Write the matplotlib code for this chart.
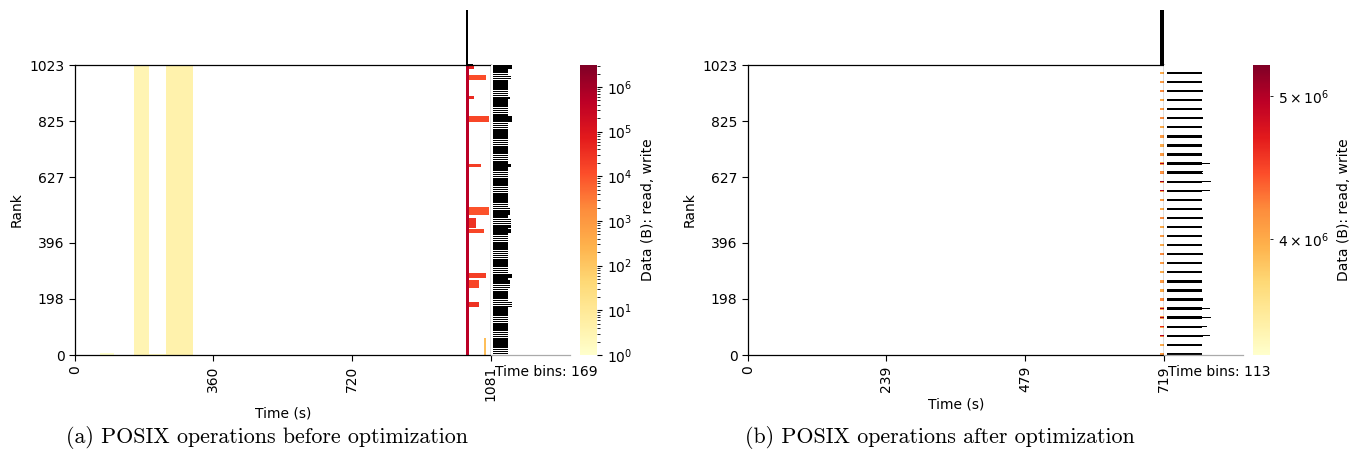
import numpy as np
import matplotlib.pyplot as plt
from matplotlib.colors import LogNorm

# ---- shared ----
N_RANKS = 1024
RANK_TICKS = [0, 198, 396, 627, 825, 1023]
CMAP = plt.get_cmap("YlOrRd").copy()
CMAP.set_bad("white")

# ---- (a) before optimization ----
A_RUNTIME = 1081
A_NBINS = 169
A_XTICKS = [0, 360, 720, 1081]
A_VMIN, A_VMAX = 1.0, 3.1e6

# read phases over all ranks: first bin, last bin, bytes per bin
a_band_first = [24, 37]
a_band_last = [29, 47]
a_band_bytes = [3.0, 4.0]

# short streaks on the lowest ranks
a_streak_top_rank = [6, 4]
a_streak_first = [10, 30]
a_streak_last = [15, 36]
a_streak_bytes = [1.0, 2.0]

# collective write on every rank
a_write_bin = 159
a_write_bytes = 5.0e5

# trailing per-rank write bursts
a_burst_rank_lo = [1010, 970, 905, 822, 665, 494, 448, 430, 272, 236, 169]
a_burst_rank_hi = [1023, 988, 912, 842, 675, 522, 483, 445, 289, 265, 187]
a_burst_last_bin = [161, 166, 161, 167, 164, 167, 162, 165, 166, 163, 163]
a_burst_bytes = [6.0e4, 1.2e4, 4.0e4, 1.5e4, 2.0e4, 1.0e4, 3.0e4, 1.5e4, 2.0e4, 1.5e4, 3.0e4]

# late small write on low ranks
a_tail_bin = 166
a_tail_rank_hi = 60
a_tail_bytes = 150.0

# ---- (b) after optimization ----
B_RUNTIME = 719
B_NBINS = 113
B_XTICKS = [0, 239, 479, 719]
B_VMIN, B_VMAX = 3.34e6, 5.25e6

b_write_bin = 112
b_group_size = 8
b_group_first_rank = [0, 32, 64, 96, 128, 160, 192, 224, 256, 288, 320, 352,
                      384, 416, 448, 480, 512, 544, 576, 608, 640, 672, 704,
                      736, 768, 800, 832, 864, 896, 928, 960, 992]
b_group_bytes = [4.1e6, 4.0e6, 4.2e6, 4.0e6, 4.1e6, 4.0e6, 4.2e6, 4.0e6,
                 4.1e6, 4.0e6, 4.1e6, 4.2e6, 4.0e6, 4.1e6, 4.0e6, 4.2e6,
                 4.0e6, 4.1e6, 4.0e6, 4.1e6, 4.2e6, 4.0e6, 4.1e6, 4.0e6,
                 4.1e6, 4.0e6, 4.2e6, 4.1e6, 4.0e6, 4.2e6, 4.1e6, 4.0e6]
# heaviest rank of each group (leader)
b_leader_bytes = [5.1e6, 4.1e6, 5.0e6, 4.6e6, 5.1e6, 5.0e6, 4.2e6, 5.1e6,
                  5.0e6, 4.6e6, 5.1e6, 5.0e6, 4.1e6, 5.1e6, 4.7e6, 5.0e6,
                  5.1e6, 4.2e6, 5.0e6, 5.1e6, 4.1e6, 5.0e6, 5.1e6, 4.6e6,
                  5.1e6, 5.0e6, 4.1e6, 5.1e6, 5.0e6, 5.1e6, 4.2e6, 5.1e6]


def build_a():
    m = np.zeros((N_RANKS, A_NBINS))
    for b0, b1, v in zip(a_band_first, a_band_last, a_band_bytes):
        m[:, b0:b1 + 1] = v
    for rh, b0, b1, v in zip(a_streak_top_rank, a_streak_first, a_streak_last, a_streak_bytes):
        m[:rh + 1, b0:b1 + 1] = v
    m[:, a_write_bin] = a_write_bytes
    for lo, hi, last, v in zip(a_burst_rank_lo, a_burst_rank_hi, a_burst_last_bin, a_burst_bytes):
        m[lo:hi + 1, a_write_bin + 1:last + 1] = v
    m[:a_tail_rank_hi + 1, a_tail_bin] = a_tail_bytes
    return m


def build_b():
    m = np.zeros((N_RANKS, B_NBINS))
    for r0, v, lead in zip(b_group_first_rank, b_group_bytes, b_leader_bytes):
        m[r0:r0 + b_group_size, b_write_bin] = v
        m[r0 + b_group_size // 2, b_write_bin] = lead
    return m


def heatmap_panel(fig, left, data, runtime, xticks, vmin, vmax, marg_scale, marg_gap,
                  bar_frac, caption, cap_x):
    bottom, height = 0.2316, 0.6277
    width = 0.3072
    mwidth = 0.0584
    ax = fig.add_axes([left, bottom, width, height])
    ax_top = fig.add_axes([left, bottom + height, width, 0.119])
    ax_right = fig.add_axes([left + width, bottom, mwidth, height])
    cax = fig.add_axes([left + width + mwidth + 0.008, bottom, 0.0125, height])

    nbins = data.shape[1]
    norm = LogNorm(vmin=vmin, vmax=vmax)
    masked = np.ma.masked_equal(data, 0)
    im = ax.imshow(masked, cmap=CMAP, norm=norm, aspect="auto", origin="lower",
                   interpolation="nearest", extent=[0, runtime, 0, RANK_TICKS[-1]])
    ax.set_xlim(0, runtime)
    ax.set_ylim(0, RANK_TICKS[-1])
    ax.set_xticks(xticks)
    ax.set_xticklabels([str(t) for t in xticks], rotation=90)
    ax.set_yticks(RANK_TICKS)
    ax.set_xlabel("Time (s)", fontsize=10)
    ax.set_ylabel("Rank", fontsize=10)
    ax.tick_params(labelsize=10, length=4)
    for sp in ax.spines.values():
        sp.set_linewidth(0.9)

    # bytes per time bin
    edges = np.linspace(0, runtime, nbins + 1)
    col = data.sum(axis=0)
    ax_top.bar(edges[:-1], col, width=runtime / nbins, align="edge", color="black")
    ax_top.set_xlim(0, runtime)
    ax_top.set_ylim(0, col.max())
    ax_top.axis("off")

    # bytes per rank
    row = data.sum(axis=1)
    step = RANK_TICKS[-1] / N_RANKS
    ranks = np.arange(N_RANKS) * step
    ax_right.barh(ranks, row, height=step * bar_frac, align="edge",
                  color="black", linewidth=0)
    ax_right.set_ylim(0, RANK_TICKS[-1])
    ax_right.set_xlim(-row.max() * marg_gap, row.max() * marg_scale)
    ax_right.set_xticks([])
    ax_right.set_yticks([])
    for name in ("top", "right", "left"):
        ax_right.spines[name].set_visible(False)
    ax_right.spines["bottom"].set_color("#aaaaaa")
    ax_right.spines["bottom"].set_linewidth(0.9)
    ax_right.text(0.06, -0.035, f"Time bins: {nbins}", transform=ax_right.transAxes,
                  ha="left", va="top", fontsize=10)

    cb = fig.colorbar(im, cax=cax)
    cb.outline.set_visible(False)
    cb.ax.tick_params(labelsize=10)
    cb.set_label("Data (B): read, write", fontsize=10, labelpad=6)

    fig.text(cap_x, 0.054, caption, ha="center", va="center",
             fontsize=15.8, family="cmr10")


fig = plt.figure(figsize=(13.53, 4.62), dpi=100)
heatmap_panel(fig, 0.0554, build_a(), A_RUNTIME, A_XTICKS, A_VMIN, A_VMAX, 3.9, 0.1, 0.75,
              "(a) POSIX operations before optimization", 0.197)
heatmap_panel(fig, 0.5528, build_b(), B_RUNTIME, B_XTICKS, B_VMIN, B_VMAX, 1.72, 0.08, 1.0,
              "(b) POSIX operations after optimization", 0.695)
fig.savefig("out.png", dpi=100)
